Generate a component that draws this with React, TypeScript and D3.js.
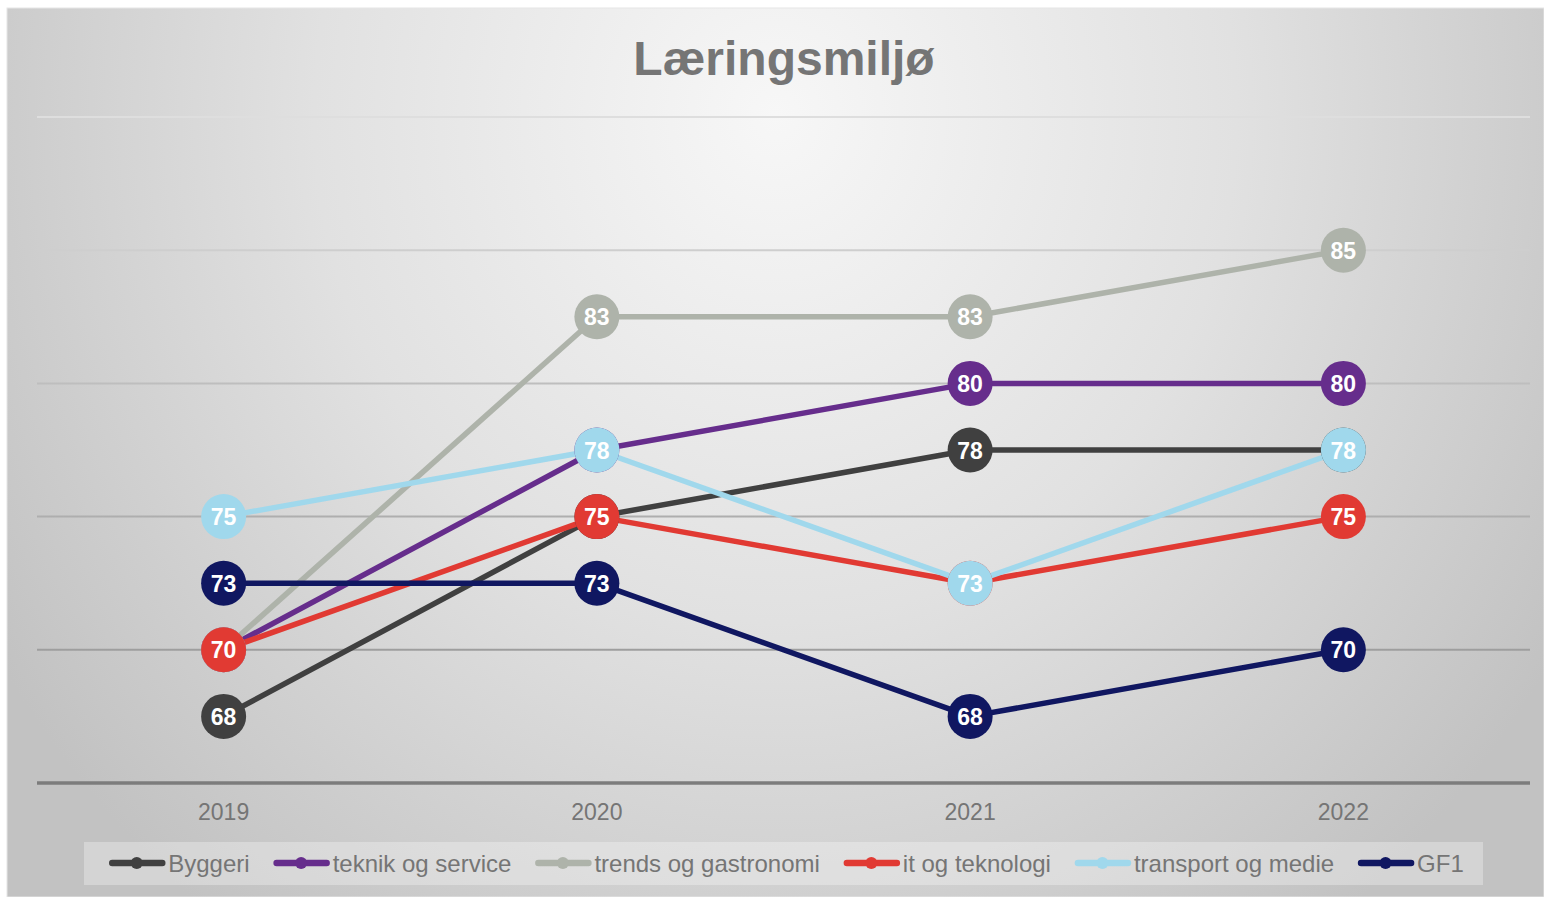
import React, { useEffect, useRef } from "react";
import * as d3 from "d3";

const years = ["2019", "2020", "2021", "2022"];
const seriesNames = ["Byggeri", "teknik og service", "trends og gastronomi", "it og teknologi", "transport og medie", "GF1"];
const seriesColors = ["#404040", "#662d8c", "#aeb3aa", "#e13a33", "#a0d8ec", "#101761"];
const byggeri = [67.5, 75, 77.5, 77.5];
const teknik = [70, 77.5, 80, 80];
const trends = [70, 82.5, 82.5, 85];
const itTek = [70, 75, 72.5, 75];
const transport = [75, 77.5, 72.5, 77.5];
const gf1 = [72.5, 72.5, 67.5, 70];
const gridValues = [70, 75, 80, 85, 90];
const title = "Læringsmiljø";

const W = 1544;
const H = 897;

export default function App() {
  const ref = useRef<SVGSVGElement | null>(null);

  useEffect(() => {
    const svg = d3.select(ref.current);
    svg.selectAll("*").remove();
    const seriesValues = [byggeri, teknik, trends, itTek, transport, gf1];
    const font = "'Liberation Sans', Arial, sans-serif";

    const defs = svg.append("defs");
    const bg = defs.append("radialGradient").attr("id", "bg").attr("cx", "0.5").attr("cy", "0.12").attr("r", "0.6")
      .attr("fx", "0.5").attr("fy", "0.12")
      .attr("gradientTransform", "translate(0.5,0.12) scale(1,1.9) translate(-0.5,-0.12)");
    bg.append("stop").attr("offset", "0").attr("stop-color", "#f7f7f7");
    bg.append("stop").attr("offset", "0.5").attr("stop-color", "#e1e1e1");
    bg.append("stop").attr("offset", "1").attr("stop-color", "#c2c2c2");

    const x = d3.scaleBand<string>().domain(years).range([37, 1530]);
    const y = d3.scaleLinear().domain([65, 90]).range([783, 117]);

    const gg = defs.append("linearGradient").attr("id", "grid").attr("gradientUnits", "userSpaceOnUse")
      .attr("x1", 0).attr("x2", 0).attr("y1", y(90)).attr("y2", y(65));
    gg.append("stop").attr("offset", "0").attr("stop-color", "#dedede");
    gg.append("stop").attr("offset", "1").attr("stop-color", "#8e8e8e");

    svg.append("rect").attr("x", 0).attr("y", 0).attr("width", W).attr("height", H).attr("fill", "#ffffff");
    svg.append("rect").attr("x", 7).attr("y", 8).attr("width", W - 7).attr("height", H - 8)
      .attr("fill", "url(#bg)").attr("stroke", "#e6e6e6").attr("stroke-width", 1);

    svg.append("text").attr("x", 784).attr("y", 75).attr("text-anchor", "middle")
      .attr("font-family", font).attr("font-weight", "bold").attr("font-size", 48).attr("fill", "#757575").text(title);

    svg.append("g").selectAll("line").data(gridValues).join("line")
      .attr("x1", 37).attr("x2", 1530).attr("y1", (d) => y(d)).attr("y2", (d) => y(d))
      .attr("stroke", "url(#grid)").attr("stroke-width", 2);

    svg.append("line").attr("x1", 37).attr("x2", 1530).attr("y1", y(65)).attr("y2", y(65))
      .attr("stroke", "#7c7c7c").attr("stroke-width", 3.5);

    const cx = (yr: string) => (x(yr) as number) + x.bandwidth() / 2;

    svg.append("g").selectAll("text").data(years).join("text")
      .attr("x", (d) => cx(d)).attr("y", 820).attr("text-anchor", "middle")
      .attr("font-family", font).attr("font-size", 23).attr("fill", "#757575").text((d) => d);

    const line = d3.line<number>().x((_, i) => cx(years[i])).y((d) => y(d));
    seriesValues.forEach((vals, si) => {
      svg.append("path").attr("d", line(vals) as string).attr("fill", "none")
        .attr("stroke", seriesColors[si]).attr("stroke-width", 5.5).attr("stroke-linejoin", "round");
    });
    seriesValues.forEach((vals, si) => {
      const g = svg.append("g");
      g.selectAll("circle").data(vals).join("circle")
        .attr("cx", (_, i) => cx(years[i])).attr("cy", (d) => y(d)).attr("r", 22.5).attr("fill", seriesColors[si]);
      g.selectAll("text").data(vals).join("text")
        .attr("x", (_, i) => cx(years[i])).attr("y", (d) => y(d) + 8.5).attr("text-anchor", "middle")
        .attr("font-family", font).attr("font-weight", "bold").attr("font-size", 23).attr("fill", "#ffffff")
        .text((d) => d3.format(".0f")(Math.round(d)));
    });

    // Legend
    const legend = svg.append("g");
    legend.append("rect").attr("x", 84).attr("y", 842).attr("width", 1399).attr("height", 43)
      .attr("fill", "#ffffff").attr("fill-opacity", 0.3);
    const items = legend.append("g");
    let cur = 0;
    seriesNames.forEach((name, si) => {
      const it = items.append("g").attr("transform", `translate(${cur},0)`);
      it.append("line").attr("x1", 3).attr("x2", 53).attr("y1", 863).attr("y2", 863)
        .attr("stroke", seriesColors[si]).attr("stroke-width", 6.5).attr("stroke-linecap", "round");
      it.append("circle").attr("cx", 27.5).attr("cy", 863).attr("r", 6).attr("fill", seriesColors[si]);
      const t = it.append("text").attr("x", 59).attr("y", 871.5)
        .attr("font-family", font).attr("font-size", 24).attr("fill", "#757575").text(name);
      const w = (t.node() as SVGTextElement).getComputedTextLength();
      cur += 59 + w + 24;
    });
    const total = cur - 24;
    items.attr("transform", `translate(${786.5 - total / 2},0)`);
  }, []);

  return (
    <svg ref={ref} width={W} height={H} style={{ position: "absolute", left: 0, top: 0, display: "block" }} />
  );
}
